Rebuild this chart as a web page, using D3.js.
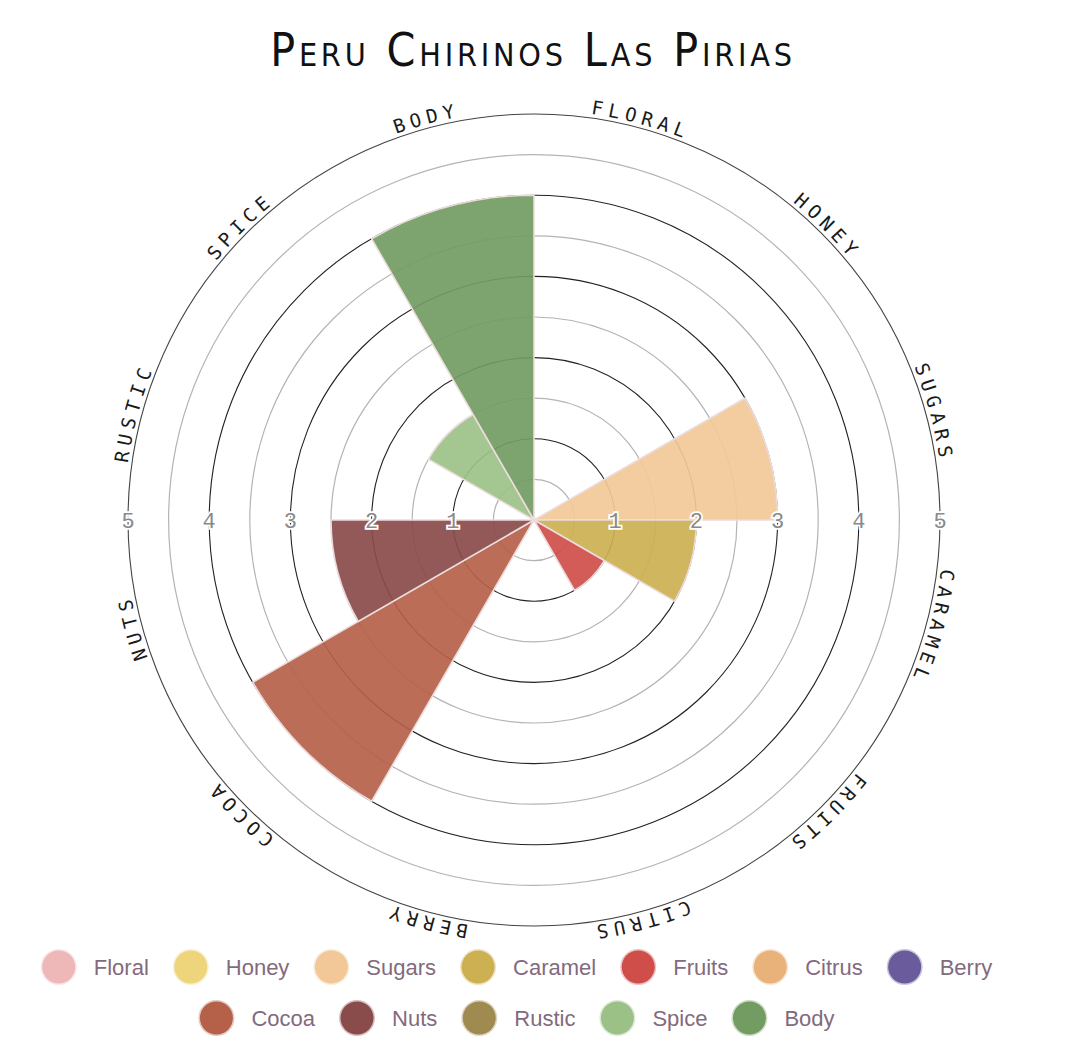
<!DOCTYPE html>
<html>
<head>
<meta charset="utf-8">
<script src="https://cdn.jsdelivr.net/npm/d3@7"></script>
<style>
  body { margin: 0; background: #fff; }
  svg { display: block; }
</style>
</head>
<body>
<div id="chart"></div>
<script>
const title = "Peru Chirinos Las Pirias"
const categories = ["Floral","Honey","Sugars","Caramel","Fruits","Citrus","Berry","Cocoa","Nuts","Rustic","Spice","Body"]
const values = [0, 0, 3, 2, 1, 0, 0, 4, 2.5, 0, 1.5, 4]
const colors = ["#eeb8b8","#eed47a","#f2c898","#cdb052","#cf4e4a","#e9b27a","#6a5c9c","#b5614a","#8a4b4b","#9f8a50","#9cc187","#729c62"]
const tickValues = [1, 2, 3, 4, 5]
const gridValues = [0.5, 1, 1.5, 2, 2.5, 3, 3.5, 4, 4.5, 5]

drawChart("#chart")

function drawChart(id){
    const canvas = {width: 1072, height: 1064, cx: 534, cy: 520, radius: 406}
    const svg = d3.select(id).append("svg").attr("width",canvas.width).attr("height",canvas.height)
    svg.append("rect").attr("width",canvas.width).attr("height",canvas.height).attr("fill","#fff")

    const rScale = d3.scaleLinear().domain([0,5]).range([0,canvas.radius])
    const aScale = d3.scaleBand().domain(categories).range([0,2*Math.PI])

    const g = svg.append("g").attr("transform",`translate(${canvas.cx},${canvas.cy})`)

    addGrid(g,rScale)
    addWedges(g,rScale,aScale)
    addTicks(g,rScale)
    addCategoryLabels(g,rScale,aScale)
    addTitle(svg)
    addLegend(svg)
}

function addGrid(g,rScale){
    g.selectAll("circle.grid").data(gridValues).enter()
     .append("circle").attr("class","grid")
     .attr("r",d => rScale(d)).attr("fill","none")
     .attr("stroke",d => Number.isInteger(d) ? (d === 5 ? "#444" : "#222") : "#b4b4b4")
     .attr("stroke-width",d => Number.isInteger(d) ? 1.1 : 1.2)
}

function addWedges(g,rScale,aScale){
    const arc = d3.arc().innerRadius(0)
      .outerRadius(d => rScale(d.value))
      .startAngle(d => aScale(d.name))
      .endAngle(d => aScale(d.name) + aScale.bandwidth())

    const data = categories.map((c,i) => ({name: c, value: values[i], color: colors[i]}))
    g.selectAll("path.wedge").data(data.filter(d => d.value > 0)).enter()
     .append("path").attr("class","wedge")
     .attr("d",arc).attr("fill",d => d.color).attr("fill-opacity",0.92)
     .attr("stroke","#ecdcdc").attr("stroke-width",1.6)
}

function addTicks(g,rScale){
    const ticks = tickValues.flatMap(v => [{v, x: rScale(v)},{v, x: -rScale(v)}])
    g.selectAll("text.tick").data(ticks).enter()
     .append("text").attr("class","tick")
     .attr("x",d => d.x).attr("y",2)
     .attr("text-anchor","middle").attr("dominant-baseline","central")
     .attr("font-family","'Liberation Mono', 'DejaVu Sans Mono', monospace")
     .attr("font-size","22px")
     .attr("fill","#8a8a8a").attr("stroke","#fff").attr("stroke-width",3.5)
     .attr("paint-order","stroke")
     .text(d => d.v)
}

function addCategoryLabels(g,rScale,aScale){
    const r = rScale(5) + 4
    g.append("path").attr("id","labelPath")
     .attr("d",`M 0,${-r} A ${r} ${r} 0 1 1 0,${r} A ${r} ${r} 0 1 1 0,${-r}`)
     .attr("fill","none")

    g.selectAll("text.cat").data(categories).enter()
     .append("text").attr("class","cat")
     .attr("font-family","'DejaVu Sans Mono', monospace")
     .attr("font-size","19px").attr("letter-spacing","5.3px").attr("fill","#1a1a1a")
     .append("textPath").attr("href","#labelPath")
     .attr("startOffset",d => ((aScale(d) + aScale.bandwidth()/2) / (2*Math.PI) * 100) + "%")
     .attr("text-anchor","middle")
     .text(d => d.toUpperCase())
}

function addTitle(svg){
    svg.append("text")
     .attr("x",533).attr("y",66)
     .attr("text-anchor","middle")
     .attr("font-family","'Liberation Sans Narrow', 'DejaVu Sans Condensed', sans-serif")
     .attr("font-size","46px").attr("font-variant","small-caps")
     .attr("letter-spacing","3.8px")
     .attr("fill","#111")
     .text(title)
}

function addLegend(svg){
    const rows = [categories.slice(0,7), categories.slice(7)]
    const rowY = [967, 1018]
    const lg = svg.append("g")

    rows.forEach((row,ri) => {
        const items = row.map(name => {
            const item = lg.append("g")
            const color = colors[categories.indexOf(name)]
            item.append("circle").attr("cx",0).attr("cy",0).attr("r",16.5)
             .attr("fill",color).attr("stroke",color).attr("stroke-opacity",0.35).attr("stroke-width",3)
            const t = item.append("text").attr("x",35).attr("y",0)
             .attr("dominant-baseline","central")
             .attr("font-family","'Liberation Sans', Arial, sans-serif")
             .attr("font-size","22px").attr("fill","#836a7d")
             .text(name)
            return {item, w: t.node().getComputedTextLength()}
        })
        let x = 0
        const pos = items.map(d => { const p = x; x += 35 + d.w + 42; return p })
        const total = x - 42 + 17
        const start = 517 - total/2 + 17
        items.forEach((d,i) => d.item.attr("transform",`translate(${start + pos[i]},${rowY[ri]})`))
    })
}
</script>
</body>
</html>
